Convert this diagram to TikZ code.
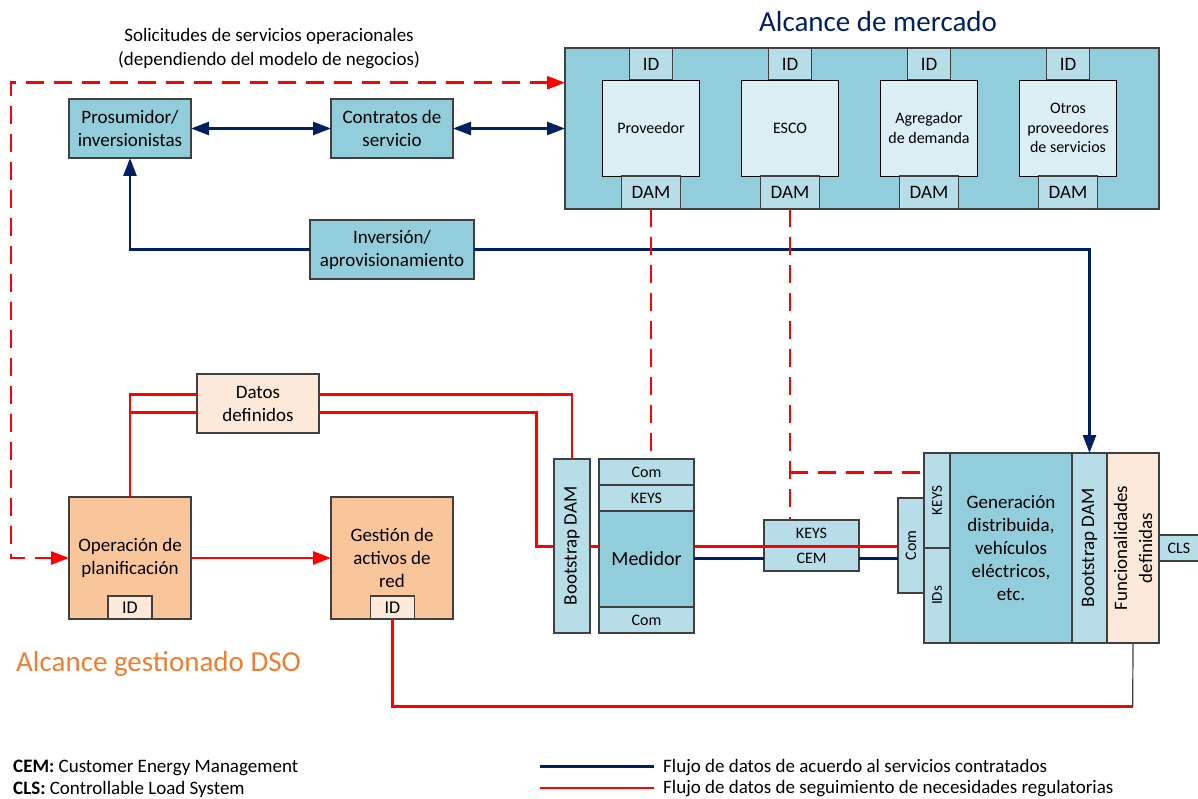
\documentclass[tikz,border=0pt]{standalone}
\usepackage{fontspec}
\setmainfont{Carlito}
\usetikzlibrary{arrows.meta}
\definecolor{tealA}{RGB}{146,205,220}
\definecolor{tealB}{RGB}{183,222,232}
\definecolor{tealC}{RGB}{218,238,243}
\definecolor{peach}{RGB}{249,197,154}
\definecolor{lpeach}{RGB}{253,233,217}
\definecolor{navy}{RGB}{0,32,96}
\definecolor{redl}{RGB}{255,0,0}
\definecolor{orng}{RGB}{237,125,49}
\definecolor{bord}{RGB}{64,64,64}
\begin{document}
\begin{tikzpicture}[x=1pt,y=-1pt,
 box/.style={draw=bord, line width=1.1pt, inner sep=0pt, outer sep=0pt, align=center, font=\fontsize{19}{23}\selectfont},
 sm/.style={font=\fontsize{16}{19.5}\selectfont},
 lbl/.style={inner sep=0pt, align=center, font=\fontsize{19}{23}\selectfont},
 bl/.style={draw=navy, line width=2.6pt},
 rd/.style={draw=redl, line width=2.6pt},
 rdd/.style={rd, dash pattern=on 18pt off 10pt},
 gl/.style={draw=bord, line width=1.2pt},
 tipE/.style={-{Triangle[length=18pt,width=13pt]}},
 tipB/.style={{Triangle[length=18pt,width=13pt]}-{Triangle[length=18pt,width=13pt]}}]
\useasboundingbox (0,0) rectangle (1198,799);

% ---------- titles ----------
\node[lbl, font=\fontsize{19}{24}\selectfont] (sol) at (269,49) {Solicitudes de servicios operacionales\\(dependiendo del modelo de negocios)};
\node[lbl, font=\fontsize{29}{35}\selectfont, text=navy] (tmkt) at (878,21.7) {Alcance de mercado};
\node[lbl, anchor=west, font=\fontsize{29}{35}\selectfont, text=orng] (tdso) at (16,664) {Alcance gestionado DSO};

% ---------- top boxes ----------
\node[box, fill=tealA, minimum width=122pt, minimum height=59pt] (pros) at (130,128.5) {Prosumidor/\\inversionistas};
\node[box, fill=tealA, minimum width=122pt, minimum height=59pt] (cont) at (392,128.5) {Contratos de\\servicio};
\node[box, fill=tealA, minimum width=164pt, minimum height=59pt] (inv) at (392,249.5) {Inversión/\\aprovisionamiento};

% ---------- market ----------
\node[box, fill=tealA, minimum width=594pt, minimum height=161pt] (mkt) at (862,128.5) {};
\foreach \i/\lab in {0/Proveedor,1/ESCO,2/{Agregador\\de demanda},3/{Otros\\proveedores\\de servicios}}{
 \pgfmathsetmacro\cx{651+139*\i}
 \node[box, fill=tealB, minimum width=43pt, minimum height=32pt] (id\i) at (\cx,64) {ID};
 \node[box, fill=tealC, draw=black, line width=0.9pt, minimum width=97pt, minimum height=96pt, sm] (sp\i) at (\cx,128) {\lab};
 \node[box, fill=tealB, minimum width=59pt, minimum height=33pt] (dam\i) at (\cx,192.5) {DAM};
}

% ---------- DSO ----------
\node[box, fill=lpeach, minimum width=122pt, minimum height=59pt] (datos) at (258,403.5) {Datos\\definidos};
\node[box, fill=peach, minimum width=122pt, minimum height=122pt] (oper) at (130,558) {Operación de\\planificación};
\node[box, fill=lpeach, minimum width=44pt, minimum height=23pt, font=\fontsize{18}{22}\selectfont] (oid) at (130,607.5) {ID};
\node[box, fill=peach, minimum width=122pt, minimum height=122pt] (gest) at (392,558) {Gestión de\\activos de\\red};
\node[box, fill=lpeach, minimum width=44pt, minimum height=23pt, font=\fontsize{18}{22}\selectfont] (gid) at (392.5,607.5) {ID};

% ---------- meter ----------
\node[box, fill=tealB, minimum width=36pt, minimum height=174pt] (bootL) at (572,546) {};
\node[lbl, rotate=90] (bootLt) at (bootL.center) {Bootstrap DAM};
\node[box, fill=tealB, sm, minimum width=95pt, minimum height=26pt] (comT) at (646.5,472) {Com};
\node[box, fill=tealB, sm, minimum width=95pt, minimum height=26pt] (keysM) at (646.5,498) {KEYS};
\node[box, fill=tealA, minimum width=95pt, minimum height=96pt, font=\fontsize{20}{24}\selectfont] (med) at (646.5,559) {Medidor};
\node[box, fill=tealB, sm, minimum width=95pt, minimum height=26pt] (comB) at (646.5,620) {Com};

% ---------- KEYS / CEM ----------
\node[box, fill=tealB, sm, minimum width=95pt, minimum height=26pt] (kk) at (811.5,533) {KEYS};
\node[box, fill=tealB, sm, minimum width=95pt, minimum height=25pt] (cem) at (811.5,558.5) {CEM};

% ---------- device ----------
\node[box, fill=tealB, minimum width=26pt, minimum height=95pt] (kD) at (937,500.5) {};
\node[lbl, rotate=90, font=\fontsize{15}{18}\selectfont] (kDt) at (kD.center) {KEYS};
\node[box, fill=tealB, minimum width=26pt, minimum height=95pt] (iD) at (937,595.5) {};
\node[lbl, rotate=90, font=\fontsize{15}{18}\selectfont] (iDt) at (iD.center) {IDs};
\node[box, fill=tealA, minimum width=122pt, minimum height=190pt] (gen) at (1011,548) {Generación\\distribuida,\\vehículos\\eléctricos,\\etc.};
\node[box, fill=tealB, minimum width=35pt, minimum height=190pt] (boot2) at (1089.5,548) {};
\node[lbl, rotate=90] (boot2t) at (boot2.center) {Bootstrap DAM};
\node[box, fill=lpeach, minimum width=52pt, minimum height=190pt] (func) at (1133,548) {};
\node[lbl, rotate=90, font=\fontsize{19}{25}\selectfont] (funct) at (func.center) {Funcionalidades\\definidas};
\node[box, fill=tealB, minimum width=26pt, minimum height=95pt] (comD) at (911,545.5) {};
\node[lbl, rotate=90, font=\fontsize{16}{19}\selectfont] (comDt) at (comD.center) {Com};
\node[box, fill=tealB, sm, minimum width=40pt, minimum height=26pt] (cls) at (1179,548) {CLS};

% ---------- connectors ----------
\coordinate (c1) at (11,82.7);
\coordinate (c2) at (11,558);
\draw[rdd, tipB] (c1 -| mkt.west) -- (c1) -- (c2) -- (c2 -| oper.west);
\draw[bl, tipB] (pros.east) -- (cont.west);
\draw[bl, tipB] (cont.east) -- (cont.east -| mkt.west);
\draw[bl, tipE] (inv.west) -| (pros.south);
\draw[bl, tipE] (inv.east) -| (boot2.north);

\draw[rdd] (dam0.south) -- (dam0.south |- comT.north);
\coordinate (j1) at (dam1.south |- 0,472.3);
\draw[rdd] (dam1.south) -- (dam1.south |- kk.north);
\draw[rdd] (j1) -- (j1 -| kD.west);

\coordinate (r1) at (130,394.3);
\coordinate (r2) at (130,412.3);
\coordinate (r3) at (536.4,546.7);
\draw[rd] (oper.north) -- (r1) -- (r1 -| datos.west);
\draw[rd] (r2) -- (r2 -| datos.west);
\draw[rd] (datos.east |- r1) -| (bootL.north);
\draw[rd] (datos.east |- r2) -| (r3) -- (r3 -| bootL.west);
\draw[rd] (r3 -| bootL.east) -- (r3 -| med.west);
\draw[rd, tipE] (oper.east) -- (gest.west);
\draw[rd] (r3 -| med.east) -- (r3 -| comD.west);
\draw[bl] (med.east |- cem.west) -- (cem.west);
\draw[bl] (cem.east) -- (cem.east -| comD.west);

\coordinate (r4) at (1132.7,706.7);
\draw[rd] (gid.south) |- (r4);
\draw[gl] (func.south) -- (r4);

% ---------- legend ----------
\node[lbl, anchor=west] (lcem) at (13,768) {\textbf{CEM:} Customer Energy Management};
\node[lbl, anchor=west] (lcls) at (13,789) {\textbf{CLS:} Controllable Load System};
\node[lbl, anchor=west] (lblue) at (663,768) {Flujo de datos de acuerdo al servicios contratados};
\node[lbl, anchor=west] (lred) at (663,789) {Flujo de datos de seguimiento de necesidades regulatorias};
\coordinate (lb) at (540,766.5);
\coordinate (lr) at (540,788);
\draw[bl] (lb) -- ++(114,0);
\draw[rd] (lr) -- ++(114,0);
\end{tikzpicture}
\end{document}
